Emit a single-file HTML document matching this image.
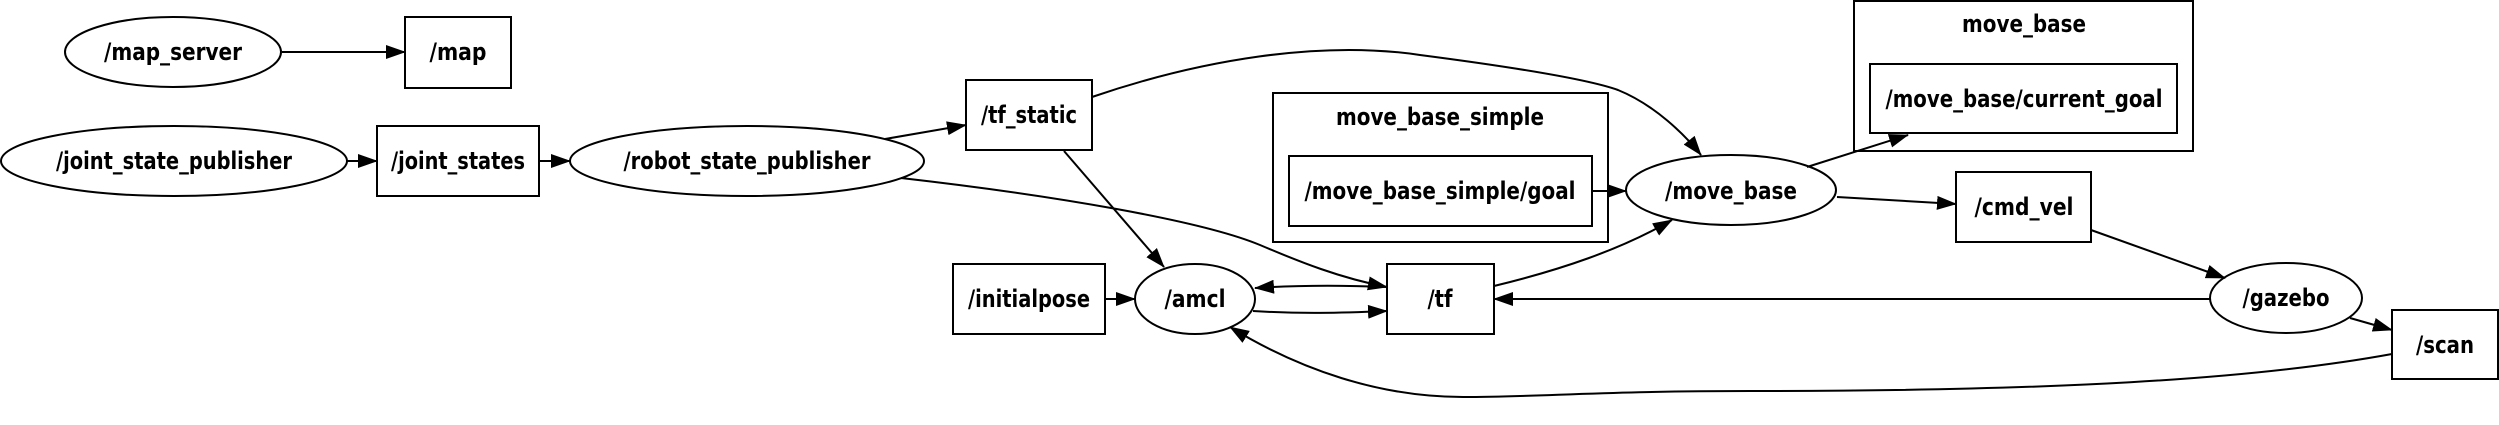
<!DOCTYPE html>
<html><head><meta charset="utf-8"><style>
html,body{margin:0;padding:0;background:#fff;}
svg{display:block}
text{font-family:"DejaVu Sans","Liberation Sans",sans-serif;font-weight:bold;font-size:24px;fill:#000;text-anchor:middle}
</style></head><body>
<svg width="2499" height="425" viewBox="0 0 2499 425" xmlns="http://www.w3.org/2000/svg">
<defs>
<marker id="a" markerWidth="20" markerHeight="14" refX="19" refY="7" orient="auto" markerUnits="userSpaceOnUse">
<path d="M0,0 L20,7 L0,14 z" fill="#000"/>
</marker>
</defs>
<g fill="none" stroke="#000" stroke-width="2">
<rect x="1273" y="93" width="335" height="149"/>
<rect x="1854" y="1" width="339" height="150"/>
<ellipse cx="173" cy="52" rx="108" ry="35"/>
<rect x="405" y="17" width="106" height="71"/>
<ellipse cx="174" cy="161" rx="173" ry="35"/>
<rect x="377" y="126" width="162" height="70"/>
<ellipse cx="747" cy="161" rx="177" ry="35"/>
<rect x="966" y="80" width="126" height="70"/>
<rect x="1289" y="156" width="303" height="70"/>
<ellipse cx="1731" cy="190" rx="105" ry="35"/>
<rect x="1870" y="64" width="307" height="69"/>
<rect x="1956" y="172" width="135" height="70"/>
<rect x="953" y="264" width="152" height="70"/>
<ellipse cx="1195" cy="299" rx="60" ry="35"/>
<rect x="1387" y="264" width="107" height="70"/>
<ellipse cx="2286" cy="298" rx="76" ry="35"/>
<rect x="2392" y="310" width="106" height="69"/>
<path d="M282,52 L405,52" marker-end="url(#a)"/>
<path d="M347,161 L377,161" marker-end="url(#a)"/>
<path d="M539,161 L570,161" marker-end="url(#a)"/>
<path d="M885,139 L966,125" marker-end="url(#a)"/>
<path d="M901,178 C1050,195 1200,220 1260,245 C1300,262 1340,278 1387,287" marker-end="url(#a)"/>
<path d="M1092,97 C1200,60 1320,40 1420,55 C1520,68 1590,80 1618,90 C1655,105 1685,135 1701,155" marker-end="url(#a)"/>
<path d="M1064,151 L1164,267" marker-end="url(#a)"/>
<path d="M1592,191 L1626,191" marker-end="url(#a)"/>
<path d="M1105,299 L1135,299" marker-end="url(#a)"/>
<path d="M1387,287 C1340,285 1300,285 1255,288" marker-end="url(#a)"/>
<path d="M1253,311 C1300,314 1340,313 1387,311" marker-end="url(#a)"/>
<path d="M1494,286 C1560,270 1620,250 1672,220" marker-end="url(#a)"/>
<path d="M1807,167 L1908,135" marker-end="url(#a)"/>
<path d="M1837,197 L1956,204" marker-end="url(#a)"/>
<path d="M2091,230 L2225,278" marker-end="url(#a)"/>
<path d="M2210,299 L1494,299" marker-end="url(#a)"/>
<path d="M2350,318 L2392,330" marker-end="url(#a)"/>
<path d="M2392,354 C2250,380 2050,391 1750,391 C1600,391 1540,397 1463,397 C1380,397 1300,370 1230,327" marker-end="url(#a)"/>
</g>
<text x="173" y="60" textLength="138" lengthAdjust="spacingAndGlyphs">/map_server</text>
<text x="458" y="60" textLength="57" lengthAdjust="spacingAndGlyphs">/map</text>
<text x="174" y="169" textLength="236" lengthAdjust="spacingAndGlyphs">/joint_state_publisher</text>
<text x="458" y="169" textLength="134" lengthAdjust="spacingAndGlyphs">/joint_states</text>
<text x="747" y="169" textLength="247" lengthAdjust="spacingAndGlyphs">/robot_state_publisher</text>
<text x="1029" y="123" textLength="96" lengthAdjust="spacingAndGlyphs">/tf_static</text>
<text x="1440" y="125" textLength="208" lengthAdjust="spacingAndGlyphs">move_base_simple</text>
<text x="1440" y="199" textLength="271" lengthAdjust="spacingAndGlyphs">/move_base_simple/goal</text>
<text x="1731" y="199" textLength="132" lengthAdjust="spacingAndGlyphs">/move_base</text>
<text x="2024" y="32" textLength="124" lengthAdjust="spacingAndGlyphs">move_base</text>
<text x="2024" y="107" textLength="277" lengthAdjust="spacingAndGlyphs">/move_base/current_goal</text>
<text x="2024" y="215" textLength="99" lengthAdjust="spacingAndGlyphs">/cmd_vel</text>
<text x="1029" y="307" textLength="122" lengthAdjust="spacingAndGlyphs">/initialpose</text>
<text x="1195" y="307" textLength="61" lengthAdjust="spacingAndGlyphs">/amcl</text>
<text x="1440" y="307" textLength="25" lengthAdjust="spacingAndGlyphs">/tf</text>
<text x="2286" y="306" textLength="87" lengthAdjust="spacingAndGlyphs">/gazebo</text>
<text x="2445" y="353" textLength="58" lengthAdjust="spacingAndGlyphs">/scan</text>
</svg>
</body></html>
